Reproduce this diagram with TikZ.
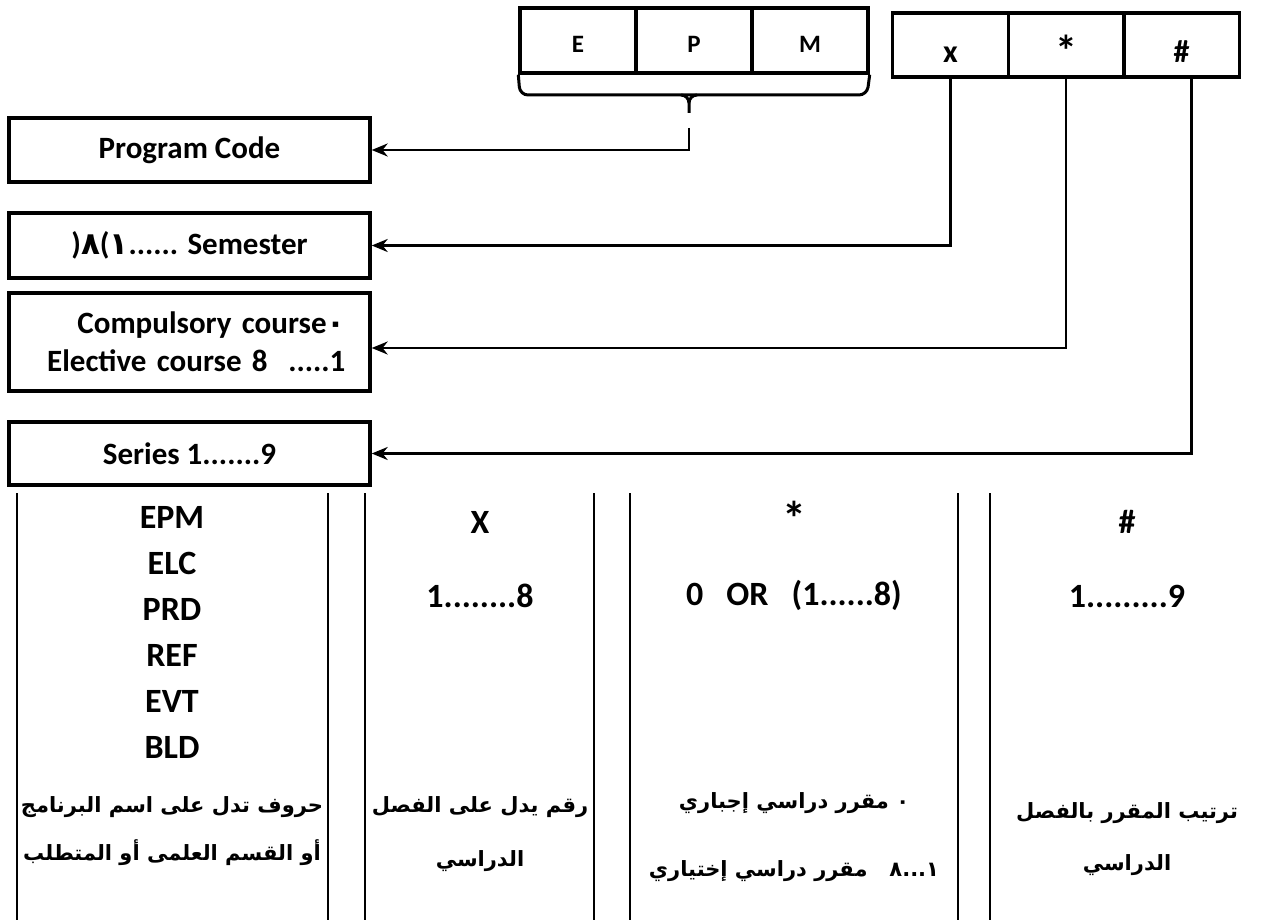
\documentclass[tikz,border=0pt]{standalone}
\usepackage{fontspec}
\setmainfont{Carlito}
\newfontfamily\arabicfont[Script=Arabic]{DejaVu Sans}
\TeXXeTstate=1
\usetikzlibrary{arrows.meta,positioning}

\begin{document}
\begin{tikzpicture}[
  x=0.5pt, y=-0.5pt,
  font=\bfseries,
  node distance=0pt,
  cell/.style={draw, line width=1.7pt, minimum width=58pt, minimum height=32.5pt,
    inner sep=0pt, text height=12.5pt, text depth=0pt,
    font=\bfseries\fontsize{12.5}{13}\selectfont},
  symcell/.style={cell, minimum width=57.8pt, minimum height=32pt, text height=18pt,
    font=\bfseries\fontsize{16}{17}\selectfont},
  infobox/.style={draw, line width=1.7pt, minimum width=180.5pt, inner sep=0pt,
    font=\bfseries\fontsize{15.5}{19}\selectfont},
  colline/.style={line width=1pt},
  coltext/.style={anchor=base, font=\bfseries\fontsize{17}{23}\selectfont},
  artext/.style={anchor=base, font=\bfseries\arabicfont\fontsize{10.5}{13}\selectfont},
  brace/.style={line width=1.5pt},
  arrow/.style={-{Stealth[length=8pt,width=6.5pt]}, line width=1.3pt}
]
\useasboundingbox (0,0) rectangle (1264,920);

% code cells
\node[cell] (ce) at (578,40.5) {E};
\node[cell, right=-1.7pt of ce] (cp) {P};
\node[cell, right=-1.7pt of cp] (cm) {M};
\node[symcell] (cx) at (950.5,45) {x};
\node[symcell, right=-1.7pt of cx, text height=22pt,
  font=\bfseries\fontsize{22}{23}\selectfont] (cs) {*};
\node[symcell, right=-1.7pt of cs] (ch) {\#};

% boxes on the left
\node[infobox, minimum height=32pt] (pcode) at (189.5,150) {Program Code};
\node[infobox, minimum height=32.5pt] (sem) at (189.5,245.5)
  {){\arabicfont ٨}({\arabicfont ١}...... Semester};
\node[infobox, minimum height=49pt, text width=156pt, align=right] (comp) at (189.5,342)
  {Compulsory course{\arabicfont ٠}\\Elective course 8\ \ .....1};
\node[infobox, minimum height=31.5pt] (series) at (189.5,453.5) {Series 1.......9};

% brace under E P M
\draw[brace, rounded corners=4pt] (ce.south west) -- (520,95) -- (867,95) -- (cm.south east);
\draw[brace] (681,95) to[out=0,in=90] (689,103) -- (689,113);
\draw[brace] (697,95) to[out=180,in=90] (689,103);

\coordinate (pctap) at (689,128);
\draw[arrow] (pctap) |- (pcode.east);
\draw[arrow] (cx.south) |- (sem.east);
\draw[arrow] (cs.south) |- ([yshift=-3pt]comp.east);
\draw[arrow] ([xshift=5pt]ch.south) |- (series.east);

% table
\foreach \x in {17,328,365,594,630,958,990}
  \draw[colline] (\x,493) -- (\x,920);

\foreach \code [count=\i] in {EPM,ELC,PRD,REF,EVT,BLD}
  \node[coltext] (code\i) at (172,482+46*\i) {\code};
\node[coltext] (xhead) at (480,533) {X};
\node[coltext] (xrange) at (480,607) {1........8};
\node[coltext, font=\bfseries\fontsize{24}{26}\selectfont] (shead) at (794,535) {*};
\node[coltext] (srange) at (794,605) {0\ \ \ OR\ \ \ (1......8)};
\node[coltext] (hhead) at (1127,533) {\#};
\node[coltext] (hrange) at (1127,607) {1.........9};

\node[artext] (codear1) at (172,812) {\beginR حروف تدل على اسم البرنامج\endR};
\node[artext] (codear2) at (172,860) {\beginR أو القسم العلمى أو المتطلب\endR};
\node[artext] (xar1) at (480,812) {\beginR رقم يدل على الفصل\endR};
\node[artext] (xar2) at (480,866) {\beginR الدراسي\endR};
\node[artext] (sar1) at (794,808) {\beginR ٠ مقرر دراسي إجباري\endR};
\node[artext] (sar2) at (794,876) {\beginR مقرر دراسي إختياري\endR\ \ \ ٨\kern0pt...\kern0pt١};
\node[artext] (har1) at (1127,818) {\beginR ترتيب المقرر بالفصل\endR};
\node[artext] (har2) at (1127,870) {\beginR الدراسي\endR};

\end{tikzpicture}
\end{document}
